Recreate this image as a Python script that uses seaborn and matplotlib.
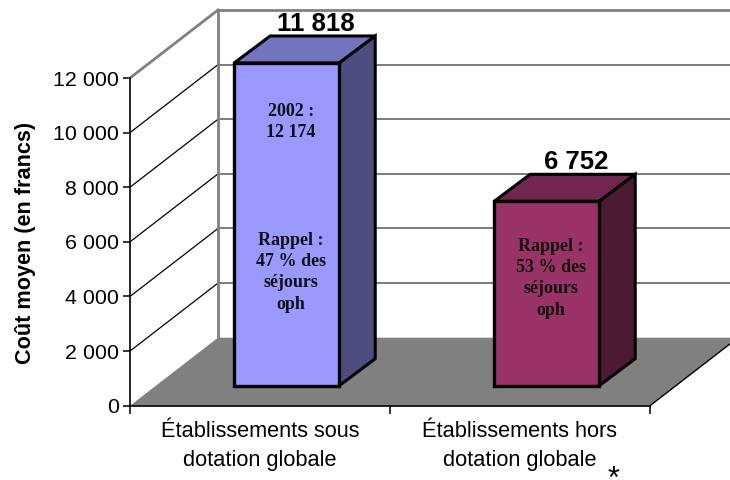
import matplotlib
matplotlib.use("Agg")
import matplotlib.pyplot as plt
import seaborn as sns
from matplotlib.patches import Polygon
from matplotlib.transforms import Affine2D

categories = ["Établissements sous\ndotation globale", "Établissements hors\ndotation globale"]
values = [11818, 6752]
value_labels = ["11 818", "6 752"]
front_colors = ["#9999FF", "#993366"]
top_colors = ["#7373BF", "#73264D"]
side_colors = ["#4D4D80", "#4D1A33"]
y_ticks = [0, 2000, 4000, 6000, 8000, 10000, 12000]
y_tick_labels = ["0", "2 000", "4 000", "6 000", "8 000", "10 000", "12 000"]
notes = [["2002 :\n12 174", "Rappel :\n47 % des\nséjours\noph"], ["Rappel :\n53 % des\nséjours\noph"]]
note_heights = [[9650, 4160], [3940]]

sns.set_style("white")
plt.rcParams["font.family"] = ["Liberation Sans", "DejaVu Sans"]

W, H = 730, 480
fig = plt.figure(figsize=(W / 100, H / 100), dpi=100)
ax = fig.add_axes([130 / W, (H - 405.7) / H, 520 / W, 327.7 / H])

# bars, seaborn draws the front faces
sns.barplot(x=[0, 1], y=values, hue=[0, 1], palette=front_colors, legend=False,
            width=0.404, native_scale=True, edgecolor="black", linewidth=2.4, saturation=1, ax=ax, zorder=5)
ax.set_xlim(-0.5, 1.5)
ax.set_ylim(0, 12000)

# pixel offsets of the fake depth
wall_dx, wall_dy = 88, 68
bar_dx, bar_dy = 26.7, 20
deep_dx, deep_dy = 36, 27
wall_tr = ax.transData + Affine2D().translate(wall_dx, wall_dy)
bar_tr = ax.transData + Affine2D().translate(bar_dx, bar_dy)
deep_tr = ax.transData + Affine2D().translate(bar_dx + deep_dx, bar_dy + deep_dy)
label_tr = ax.transData + Affine2D().translate(bar_dx + deep_dx - 7, bar_dy + deep_dy)


def px(tr, x, y):
    return tuple(tr.transform((x, y)))


def line(p0, p1, color, lw, z=1):
    ax.plot([p0[0], p1[0]], [p0[1], p1[1]], transform=None, color=color, lw=lw, clip_on=False,
            zorder=z, solid_capstyle="projecting")


def poly(points, face, edge="none", lw=0, z=1):
    ax.add_patch(Polygon(points, closed=True, transform=None, facecolor=face, edgecolor=edge, linewidth=lw,
                         clip_on=False, zorder=z, joinstyle="miter"))


# floor
poly([px(ax.transData, -0.5, 0), px(ax.transData, 1.5, 0), px(wall_tr, 1.5, 0), px(wall_tr, -0.5, 0)], "#808080", z=0.5)
line(px(ax.transData, 1.5, 0), px(wall_tr, 1.5, 0), "black", 1.0)

# walls
for t in y_ticks[1:]:
    top = t == y_ticks[-1]
    line(px(ax.transData, -0.5, t), px(wall_tr, -0.5, t), "#808080" if top else "black", 2 if top else 0.9)
    line(px(wall_tr, -0.5, t), px(wall_tr, 1.5, t), "#808080" if top else "#666666", 2 if top else 1.2)
line(px(wall_tr, -0.5, 0), px(wall_tr, -0.5, y_ticks[-1]), "#808080", 2)

# 3d faces of the bars
for i, bar in enumerate(ax.patches[:len(values)]):
    x0, x1 = bar.get_x(), bar.get_x() + bar.get_width()
    v = bar.get_height()
    bar.set_transform(bar_tr)
    bar.set_clip_on(False)
    bar.set_joinstyle("miter")
    poly([px(bar_tr, x0, v), px(bar_tr, x1, v), px(deep_tr, x1, v), px(deep_tr, x0, v)],
         top_colors[i], "black", 2.2, z=4)
    poly([px(bar_tr, x1, 0), px(bar_tr, x1, v), px(deep_tr, x1, v), px(deep_tr, x1, 0)],
         side_colors[i], "black", 2.2, z=4)
    ax.text(x0 + bar.get_width() / 2, v, value_labels[i], transform=label_tr, ha="center", va="bottom",
            fontsize=18.5, fontweight="bold", color="black", zorder=7, clip_on=False)
    for note, h in zip(notes[i], note_heights[i]):
        ax.text(i + 0.017, h, note, transform=bar_tr, ha="center", va="center", color="#111111",
                family="Liberation Serif", fontsize=13, fontweight="bold", linespacing=1.33, zorder=7)

# axes
sns.despine(ax=ax)
for s in ["left", "bottom"]:
    ax.spines[s].set_color("black")
    ax.spines[s].set_linewidth(1.2)
ax.set_yticks(y_ticks, y_tick_labels)
ax.set_xticks([-0.5, 0.5, 1.5], ["", "", ""])
ax.set_xticks([0, 1], categories, minor=True)
ax.tick_params(axis="y", left=True, length=5, width=1.1, color="black", labelsize=15.4, pad=3, labelcolor="black")
ax.tick_params(axis="x", which="major", bottom=True, length=6, width=1.1, color="black")
ax.tick_params(axis="x", which="minor", bottom=False, length=0, labelsize=15.7, pad=11, labelcolor="black")
for lab in ax.get_xticklabels(minor=True):
    lab.set_linespacing(1.48)
ax.set_xlabel("")
ax.set_ylabel("Coût moyen (en francs)", fontsize=15.6, fontweight="bold", color="black")
ax.yaxis.set_label_coords(-0.18, 0.496)

fig.text(613 / W, (H - 495) / H, "*", fontsize=22, ha="center", va="bottom", color="black")

fig.savefig("out.png", dpi=100)
